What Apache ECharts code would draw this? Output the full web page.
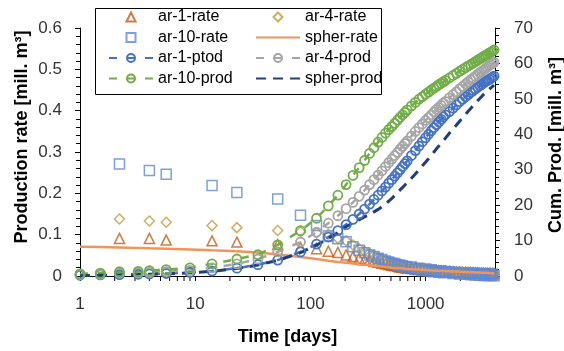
<!DOCTYPE html>
<html>
<head>
<meta charset="utf-8">
<script src="https://cdn.jsdelivr.net/npm/echarts@6/dist/echarts.min.js"></script>
<style>
  html, body { margin: 0; padding: 0; background: #fff; }
  #chart { width: 564px; height: 351px; }
</style>
</head>
<body>
<div id="chart"></div>
<script>
// Sampling times [days]
const time = [1, 1.5, 2.2, 3.2, 4, 5.6, 9, 14, 23, 35,
  52, 82, 113, 143, 173, 204, 234, 265, 295, 326, 356, 387, 417, 448, 478, 509, 539, 570, 600, 631, 661, 692,
  753, 814, 875, 936, 997, 1058, 1119, 1180, 1241, 1302, 1363, 1424, 1485,
  1607, 1729, 1851, 1973, 2095, 2217, 2339, 2461, 2583, 2705, 2827, 2949, 3071, 3193, 3315, 3437, 3559, 3681, 3803, 3925];

// Production rates [mill. m3] (left axis)
const ar1Rate = [null, null, 0.091, null, 0.091, 0.087, null, 0.085, 0.082, null,
  0.076, 0.069, 0.066, 0.060, 0.057, 0.051, 0.047, 0.043, 0.040, 0.038, 0.035, 0.033, 0.031, 0.029, 0.027, 0.026, 0.025, 0.023, 0.022, 0.021, 0.020, 0.019,
  0.018, 0.017, 0.016, 0.015, 0.0145, 0.014, 0.0135, 0.013, 0.0125, 0.012, 0.0115, 0.011, 0.0108,
  0.0102, 0.0097, 0.0093, 0.009, 0.0087, 0.0084, 0.0081, 0.0079, 0.0077, 0.0075, 0.0073, 0.0071, 0.0069, 0.0067, 0.0066, 0.0064, 0.0063, 0.0061, 0.006, 0.0059];
const ar4Rate = [null, null, 0.138, null, 0.133, 0.130, null, 0.122, 0.117, null,
  0.110, 0.107, 0.104, 0.101, 0.091, 0.085, 0.075, 0.066, 0.060, 0.055, 0.050, 0.045, 0.041, 0.038, 0.035, 0.033, 0.031, 0.029, 0.027, 0.026, 0.025, 0.024,
  0.022, 0.021, 0.0195, 0.0182, 0.017, 0.016, 0.015, 0.0142, 0.0135, 0.013, 0.0124, 0.0118, 0.0113,
  0.0106, 0.01, 0.0095, 0.0091, 0.0087, 0.0084, 0.0081, 0.0078, 0.0076, 0.0074, 0.0072, 0.007, 0.0068, 0.0066, 0.0065, 0.0063, 0.0062, 0.006, 0.0059, 0.0058];
const ar10Rate = [null, null, 0.271, null, 0.255, 0.246, null, 0.219, 0.202, null,
  0.186, 0.147, 0.122, 0.097, 0.090, 0.083, 0.071, 0.062, 0.056, 0.051, 0.047, 0.043, 0.040, 0.036, 0.034, 0.031, 0.030, 0.027, 0.026, 0.024, 0.023, 0.021,
  0.022, 0.016, 0.019, 0.013, 0.017, 0.012, 0.015, 0.010, 0.013, 0.009, 0.012, 0.008, 0.011,
  0.010, 0.006, 0.009, 0.005, 0.008, 0.004, 0.007, 0.003, 0.0065, 0.0025, 0.006, 0.002, 0.0055, 0.0015, 0.005, 0.001, 0.0045, 0.001, 0.004, 0.0008];
const spherRate = [0.071, 0.070, 0.069, 0.068, 0.067, 0.066, 0.064, 0.062, 0.060, 0.057,
  0.052, 0.046, 0.041, 0.037, 0.034, 0.032, 0.030, 0.028, 0.027, 0.026, 0.025, 0.024, 0.023, 0.022, 0.021, 0.020, 0.0195, 0.019, 0.0185, 0.018, 0.0175, 0.017,
  0.0165, 0.016, 0.0155, 0.015, 0.0145, 0.014, 0.0135, 0.013, 0.0128, 0.0125, 0.0122, 0.012, 0.0118,
  0.0114, 0.011, 0.0106, 0.0102, 0.0098, 0.0095, 0.0092, 0.009, 0.0088, 0.0086, 0.0084, 0.0082, 0.008, 0.0078, 0.0076, 0.0074, 0.0072, 0.007, 0.0068, 0.0066];

// Cumulative production [mill. m3] (right axis)
const ar1Prod = [0.2, 0.3, 0.4, 0.5, 0.6, 0.7, 1.0, 1.4, 2.2, 3.2,
  4.5, 6.8, 9.0, 11.0, 12.8, 14.5, 16.0, 17.5, 18.9, 20.3, 21.6, 22.8, 24.0, 25.1, 26.2, 27.2, 28.2, 29.1, 30.0, 30.9, 31.7, 32.5,
  34.0, 35.4, 36.7, 37.9, 39.0, 40.0, 41.0, 41.9, 42.7, 43.5, 44.2, 44.9, 45.5,
  46.4, 47.4, 48.3, 49.2, 49.9, 50.6, 51.2, 51.8, 52.3, 52.8, 53.3, 53.7, 54.1, 54.5, 54.9, 55.2, 55.5, 55.8, 56.1, 56.4];
const ar4Prod = [0.4, 0.5, 0.8, 0.9, 1.0, 1.2, 1.6, 2.3, 3.4, 4.8,
  6.8, 9.6, 12.4, 14.9, 17.0, 19.0, 20.8, 22.5, 24.2, 25.8, 27.2, 28.5, 29.7, 30.9, 32.0, 33.0, 34.0, 34.9, 35.8, 36.6, 37.4, 38.1,
  39.5, 40.8, 41.9, 42.9, 43.9, 44.7, 45.5, 46.3, 47.0, 47.6, 48.2, 48.8, 49.3,
  50.3, 51.2, 52.0, 52.8, 53.5, 54.2, 54.8, 55.4, 55.9, 56.4, 56.9, 57.4, 57.8, 58.2, 58.6, 59.0, 59.4, 59.7, 60.0, 60.3];
const ar10Prod = [0.6, 0.8, 1.2, 1.3, 1.5, 1.8, 2.3, 3.4, 4.8, 6.0,
  8.8, 12.8, 16.3, 19.8, 22.8, 25.8, 28.4, 30.6, 32.6, 34.6, 36.2, 37.8, 39.1, 40.3, 41.3, 42.2, 43.1, 44.0, 44.8, 45.5, 46.2, 46.9,
  48.0, 49.0, 49.9, 50.6, 51.3, 51.9, 52.5, 53.0, 53.5, 54.0, 54.4, 54.8, 55.2,
  55.9, 56.6, 57.2, 57.8, 58.3, 58.8, 59.3, 59.7, 60.1, 60.5, 60.9, 61.3, 61.6, 62.0, 62.3, 62.6, 62.9, 63.2, 63.5, 63.8];
const spherProd = [0.1, 0.2, 0.3, 0.4, 0.5, 0.6, 0.9, 1.3, 2.1, 3.1,
  4.4, 6.6, 8.7, 10.6, 12.2, 13.9, 15.0, 15.9, 16.7, 17.4, 18.1, 18.8, 19.5, 20.3, 21.1, 21.9, 22.7, 23.5, 24.3, 25.0, 25.7, 26.3,
  27.6, 28.8, 30.0, 31.1, 32.1, 33.1, 34.1, 35.0, 35.9, 36.7, 37.5, 38.2, 38.9,
  40.3, 41.5, 42.6, 43.7, 44.7, 45.6, 46.5, 47.3, 48.1, 48.8, 49.5, 50.1, 50.7, 51.3, 51.8, 52.3, 52.7, 53.1, 53.5, 53.9];

// Axis ranges and minor tick positions on the log time axis
const timeRange = [1, 4000];
const timeMinorTicks = [2, 3, 4, 5, 6, 7, 8, 9, 20, 30, 40, 50, 60, 70, 80, 90,
  200, 300, 400, 500, 600, 700, 800, 900, 2000, 3000];
const rateRange = [0, 0.6];
const cumRange = [0, 70];

const FONT = '"Liberation Sans", Arial, sans-serif';
const NONE = 'rgba(0,0,0,0)';

function pairs(vals) {
  return time.map((t, i) => [t, vals[i]]).filter(p => p[1] !== null);
}

function rateSeries(name, vals, symbol, size, color) {
  return {
    name, type: 'scatter', xAxisIndex: 0, yAxisIndex: 0,
    symbol, symbolSize: size,
    itemStyle: { color: NONE, borderColor: color, borderWidth: 1.5 },
    emphasis: { disabled: true },
    data: pairs(vals)
  };
}

function cumSeries(name, vals, color) {
  return {
    name, type: 'line', xAxisIndex: 0, yAxisIndex: 1,
    symbol: 'circle', symbolSize: 9, showAllSymbol: true,
    itemStyle: { color: NONE, borderColor: color, borderWidth: 1.8 },
    lineStyle: { color: color, width: 2.5, type: [8, 10] },
    emphasis: { disabled: true },
    data: pairs(vals)
  };
}

// Legend marker icons: small shapes centred in the 44x10 icon box
const ICON_TRIANGLE = 'path://M0,0M44,10M22,0.5L26.5,9.5L17.5,9.5Z';
const ICON_DIAMOND = 'path://M0,0M44,10M22,0.5L26.5,5L22,9.5L17.5,5Z';
const ICON_SQUARE = 'path://M0,0M44,10M17.5,0.5L26.5,0.5L26.5,9.5L17.5,9.5Z';
const noMarker = { opacity: 0 };

const legendBase = {
  orient: 'vertical', top: 9,
  itemWidth: 44, itemHeight: 10, itemGap: 4.5,
  padding: 0, selectedMode: false,
  textStyle: { fontFamily: FONT, fontSize: 16, color: '#000' }
};

const chart = echarts.init(document.getElementById('chart'), null, { renderer: 'canvas' });
chart.setOption({
  animation: false,
  backgroundColor: '#fff',
  grid: { left: 80, right: 69, top: 28, bottom: 73, containLabel: false },
  legend: [
    Object.assign({}, legendBase, {
      left: 108,
      data: [
        { name: 'ar-1-rate', icon: ICON_TRIANGLE },
        { name: 'ar-10-rate', icon: ICON_SQUARE },
        { name: 'ar-1-ptod' },
        { name: 'ar-10-prod' }
      ]
    }),
    Object.assign({}, legendBase, {
      left: 255,
      data: [
        { name: 'ar-4-rate', icon: ICON_DIAMOND },
        { name: 'spher-rate', itemStyle: noMarker },
        { name: 'ar-4-prod' },
        { name: 'spher-prod', itemStyle: noMarker }
      ]
    })
  ],
  xAxis: {
    type: 'log', logBase: 10, min: timeRange[0], max: timeRange[1],
    name: 'Time [days]', nameLocation: 'middle', nameGap: 52,
    nameTextStyle: { fontFamily: FONT, fontSize: 18, fontWeight: 'bold', color: '#000' },
    axisLine: { show: true, onZero: false, lineStyle: { color: '#000', width: 1 } },
    axisTick: { show: true, length: 5, lineStyle: { color: '#000' } },
    axisLabel: { fontFamily: FONT, fontSize: 17, color: '#333', margin: 20, showMaxLabel: false,
                 formatter: v => String(Math.round(v)) },
    splitLine: { show: false }
  },
  yAxis: [{
    type: 'value', min: rateRange[0], max: rateRange[1], interval: 0.1,
    axisLine: { show: true, onZero: false, lineStyle: { color: '#000', width: 1 } },
    axisTick: { show: true, length: 5, lineStyle: { color: '#000' } },
    minorTick: { show: true, splitNumber: 5, length: 4, lineStyle: { color: '#000' } },
    axisLabel: { fontFamily: FONT, fontSize: 17, color: '#333', margin: 18 },
    splitLine: { show: false }
  }, {
    type: 'value', position: 'right', min: cumRange[0], max: cumRange[1], interval: 10,
    axisLine: { show: true, onZero: false, lineStyle: { color: '#000', width: 1 } },
    axisTick: { show: true, length: 5, lineStyle: { color: '#000' } },
    minorTick: { show: true, splitNumber: 5, length: 4, lineStyle: { color: '#000' } },
    axisLabel: { fontFamily: FONT, fontSize: 17, color: '#333', margin: 19 },
    splitLine: { show: false }
  }],
  graphic: [{
    // legend frame
    type: 'rect', z: 3,
    shape: { x: 95.5, y: 8.5, width: 286, height: 86 },
    style: { fill: '#fff', stroke: '#000', lineWidth: 1 }
  }, {
    type: 'text', x: 22, y: 137, rotation: Math.PI / 2,
    style: { text: 'Production rate [mill. m³]', font: 'bold 18px ' + FONT, fill: '#000',
             textAlign: 'center', textVerticalAlign: 'middle' }
  }, {
    type: 'text', x: 556, y: 145, rotation: Math.PI / 2,
    style: { text: 'Cum. Prod. [mill. m³]', font: 'bold 18px ' + FONT, fill: '#000',
             textAlign: 'center', textVerticalAlign: 'middle' }
  }],
  series: [
    rateSeries('ar-1-rate', ar1Rate, 'triangle', 10, '#C55A11'),
    rateSeries('ar-4-rate', ar4Rate, 'diamond', 10, '#C09A3C'),
    rateSeries('ar-10-rate', ar10Rate, 'rect', 10, '#5E88D6'),
    {
      name: 'spher-rate', type: 'line', xAxisIndex: 0, yAxisIndex: 0,
      symbol: 'none', lineStyle: { color: '#F0945A', width: 2.5 },
      itemStyle: { color: '#F0945A' },
      emphasis: { disabled: true },
      data: pairs(spherRate)
    },
    cumSeries('ar-1-ptod', ar1Prod, '#4472C4'),
    cumSeries('ar-4-prod', ar4Prod, '#A5A5A5'),
    cumSeries('ar-10-prod', ar10Prod, '#70AD47'),
    {
      name: 'spher-prod', type: 'line', xAxisIndex: 0, yAxisIndex: 1,
      symbol: 'none', lineStyle: { color: '#203E78', width: 3, type: [10, 7] },
      itemStyle: { color: '#203E78' },
      emphasis: { disabled: true },
      data: pairs(spherProd)
    },
    {
      // minor ticks of the logarithmic time axis
      type: 'custom', xAxisIndex: 0, yAxisIndex: 0, silent: true, clip: false,
      data: timeMinorTicks.map(v => [v, rateRange[0]]),
      renderItem: function (params, api) {
        const p = api.coord([api.value(0), api.value(1)]);
        return {
          type: 'line',
          shape: { x1: p[0], y1: p[1], x2: p[0], y2: p[1] + 5 },
          style: { stroke: '#000', lineWidth: 1 }
        };
      }
    }
  ]
});
</script>
</body>
</html>
